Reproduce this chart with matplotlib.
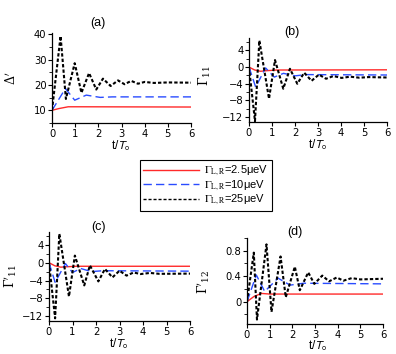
import matplotlib
matplotlib.use("Agg")
import matplotlib.pyplot as plt
from matplotlib.ticker import MultipleLocator
from matplotlib.lines import Line2D
from matplotlib.font_manager import FontProperties

plt.rcParams['font.family'] = ['Liberation Sans', 'DejaVu Sans']
plt.rcParams['mathtext.fontset'] = 'stix'

# ---------------- data ----------------
# panel (a): Delta'
a_t_k = [0, 0.37, 0.6, 0.98, 1.27, 1.6, 1.91, 2.2, 2.53, 2.85, 3.13, 3.42, 3.71, 4.0, 4.4, 5.0, 6.0]
a_v_k = [10, 39.3, 14.5, 28.6, 16.9, 24.7, 18.2, 22.5, 19.6, 21.8, 20.3, 21.6, 20.5, 21.2, 20.8, 21.0, 20.9]
a_t_b = [0, 0.58, 0.98, 1.48, 2.08, 2.6, 6.0]
a_v_b = [10, 18.6, 14.0, 16.0, 15.1, 15.3, 15.3]
a_t_r = [0, 0.3, 0.7, 1.2, 6.0]
a_v_r = [10, 10.7, 11.4, 11.4, 11.3]

# panel (b): Gamma_11
b_t_k = [0, 0.26, 0.45, 0.87, 1.13, 1.49, 1.78, 2.1, 2.4, 2.72, 3.04, 3.35, 3.67, 4.03, 4.4, 4.8, 5.2, 6.0]
b_v_k = [0, -13.0, 6.4, -7.6, 1.7, -5.2, -0.4, -4.0, -1.35, -3.3, -1.8, -2.8, -2.15, -2.6, -2.3, -2.55, -2.4, -2.5]
b_t_b = [0, 0.29, 0.72, 1.1, 1.5, 2.0, 2.5, 6.0]
b_v_b = [0, -4.8, -0.2, -2.4, -1.5, -2.1, -1.8, -1.9]
b_t_r = [0, 0.25, 0.5, 0.8, 1.2, 6.0]
b_v_r = [0, -0.7, -1.0, -0.85, -0.7, -0.65]

# panel (c): Gamma'_11
c_t_k = [0, 0.26, 0.44, 0.85, 1.1, 1.5, 1.74, 2.1, 2.38, 2.7, 3.0, 3.3, 3.6, 3.9, 4.3, 4.7, 6.0]
c_v_k = [0, -12.5, 6.5, -7.6, 1.6, -5.1, -0.6, -4.2, -1.4, -3.3, -1.8, -2.9, -2.2, -2.55, -2.3, -2.5, -2.45]
c_t_b = [0, 0.26, 0.7, 1.0, 1.35, 1.8, 2.3, 6.0]
c_v_b = [0, -4.4, -0.2, -2.2, -1.3, -2.0, -1.8, -1.9]
c_t_r = [0, 0.25, 0.5, 0.8, 1.2, 6.0]
c_v_r = [0, -0.7, -1.0, -0.9, -0.8, -0.8]

# panel (d): Gamma'_12
d_t_k = [0, 0.3, 0.44, 0.86, 1.08, 1.48, 1.71, 2.11, 2.33, 2.7, 2.97, 3.32, 3.62, 3.96, 4.25, 4.62, 5.0, 6.0]
d_v_k = [0, 0.77, -0.28, 0.9, -0.16, 0.71, 0.07, 0.55, 0.18, 0.46, 0.28, 0.41, 0.32, 0.38, 0.33, 0.37, 0.35, 0.36]
d_t_b = [0, 0.41, 0.78, 1.37, 1.9, 2.5, 6.0]
d_v_b = [0, 0.42, 0.16, 0.37, 0.26, 0.29, 0.28]
d_t_r = [0, 0.3, 0.63, 1.0, 6.0]
d_v_r = [0, 0.08, 0.13, 0.12, 0.12]

legend_labels = [r'$\Gamma_{\rm L,R}$=2.5μeV', r'$\Gamma_{\rm L,R}$=10μeV', r'$\Gamma_{\rm L,R}$=25μeV']
panel_tags = ['(a)', '(b)', '(c)', '(d)']
ylabels = [r"$\Delta'$", r"$\Gamma_{11}$", r"$\Gamma'_{11}$", r"$\Gamma'_{12}$"]
xlabel_text = r't/$T_{\rm o}$'

# ---------------- figure ----------------
W, H = 396, 354
fig = plt.figure(figsize=(W / 100, H / 100), dpi=100)

def px_axes(l, r, t, b):
    return fig.add_axes([l / W, 1 - b / H, (r - l) / W, (b - t) / H])

RED = '#ff2a2a'
BLUE = '#2a4cff'
KSTYLE = dict(color='black', lw=1.5, ls=(0, (1.6, 1.0)))
BSTYLE = dict(color=BLUE, lw=1.0, ls=(0, (6, 3)))
RSTYLE = dict(color=RED, lw=1.0, ls='-')

panels = [
    dict(box=(52, 191, 33, 123), ylim=(5, 40.5), major=10, minor=5,
         k=(a_t_k, a_v_k), b=(a_t_b, a_v_b), r=(a_t_r, a_v_r),
         tag=(98, 23), ylab=(12, 78), xlab=(121, 146)),
    dict(box=(249, 387, 38, 122), ylim=(-13.2, 7.0), major=4, minor=2,
         k=(b_t_k, b_v_k), b=(b_t_b, b_v_b), r=(b_t_r, b_v_r),
         tag=(292, 32), ylab=(205, 76), xlab=(318, 145)),
    dict(box=(49, 190, 232, 321), ylim=(-13.1, 6.9), major=4, minor=2,
         k=(c_t_k, c_v_k), b=(c_t_b, c_v_b), r=(c_t_r, c_v_r),
         tag=(98, 227), ylab=(11, 276), xlab=(119, 344)),
    dict(box=(247, 383, 238, 324), ylim=(-0.35, 1.0), major=0.4, minor=0.2,
         k=(d_t_k, d_v_k), b=(d_t_b, d_v_b), r=(d_t_r, d_v_r),
         tag=(295, 232), ylab=(204, 282), xlab=(318, 346)),
]

tick_font = FontProperties(family='DejaVu Sans', size=7.2)

for i, p in enumerate(panels):
    ax = px_axes(*p['box'])
    ax.plot(*p['r'], **RSTYLE)
    ax.plot(*p['b'], **BSTYLE)
    ax.plot(*p['k'], **KSTYLE)
    ax.set_xlim(0, 6)
    ax.set_ylim(*p['ylim'])
    ax.xaxis.set_major_locator(MultipleLocator(1))
    ax.yaxis.set_major_locator(MultipleLocator(p['major']))
    ax.yaxis.set_minor_locator(MultipleLocator(p['minor']))
    for s in ('top', 'right'):
        ax.spines[s].set_visible(False)
    for s in ('left', 'bottom'):
        ax.spines[s].set_linewidth(0.9)
    ax.tick_params(which='major', direction='out', length=3, width=0.8, pad=1.0)
    ax.tick_params(which='minor', direction='out', length=2, width=0.6)
    if i == 3:
        ax.set_yticks([0, 0.4, 0.8])
        ax.set_yticklabels(['0', '0.4', '0.8'])
    for lab in ax.get_xticklabels() + ax.get_yticklabels():
        lab.set_fontproperties(tick_font)
    tx, ty = p['tag']
    fig.text(tx / W, 1 - ty / H, panel_tags[i], fontsize=9, ha='center', va='center')
    lx, ly = p['ylab']
    fig.text(lx / W, 1 - ly / H, ylabels[i], fontsize=9, rotation=90,
             ha='center', va='center', math_fontfamily='dejavuserif')
    xx, xy = p['xlab']
    fig.text(xx / W, 1 - xy / H, xlabel_text, fontsize=8.5, ha='center',
             va='center', math_fontfamily='stixsans')

handles = [Line2D([], [], color=RED, lw=1.0),
           Line2D([], [], color=BLUE, lw=1.0, ls=(0, (6, 3))),
           Line2D([], [], color='black', lw=1.0, ls=(0, (2.2, 1.4)))]
leg = fig.legend(handles, legend_labels, loc='center',
                 bbox_to_anchor=(206 / W, 1 - 185.5 / H),
                 prop=FontProperties(family='Liberation Sans', size=8),
                 handlelength=5.0, handletextpad=0.5,
                 labelspacing=0.0, borderpad=0.3, fancybox=False,
                 edgecolor='black', framealpha=1)
leg.get_frame().set_linewidth(0.8)

fig.savefig('out.png', dpi=100)
